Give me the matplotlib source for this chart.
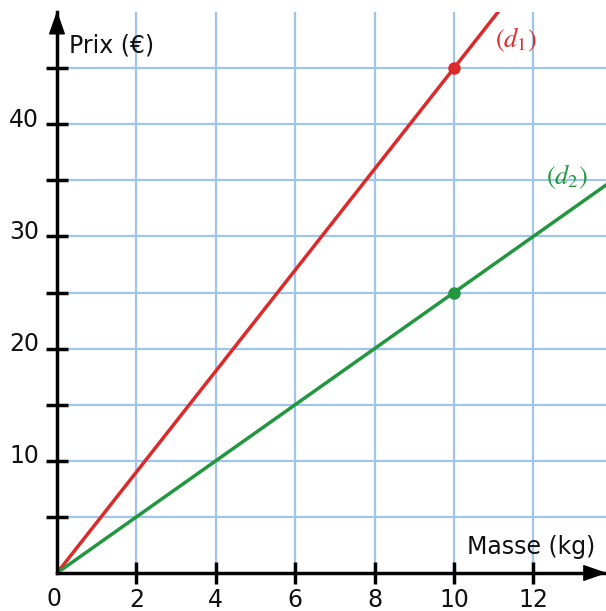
import matplotlib
matplotlib.use("Agg")
import matplotlib.pyplot as plt
from matplotlib.transforms import ScaledTranslation
import numpy as np

# Data
x_ticks = [2, 4, 6, 8, 10, 12]
x_tick_labels = ["2", "4", "6", "8", "10", "12"]
y_ticks = [5, 10, 15, 20, 25, 30, 35, 40, 45]
y_tick_labels = ["", "10", "", "20", "", "30", "", "40", ""]
slope_d1 = 4.5
slope_d2 = 2.5
point_x = 10
point_d1 = 45
point_d2 = 25
line_x = [0, 14]

RED = "#dc2a2a"
GREEN = "#23973f"
GRID = "#9fc5e8"
FS = 17

plt.rcParams["mathtext.fontset"] = "stix"

W, H = 606, 611
fig = plt.figure(figsize=(W / 100, H / 100), dpi=100)
x0, y0 = 57, 573
xmax, ymax = 13.83, 50.0
ax = fig.add_axes([x0 / W, (H - y0) / H, (W - x0) / W, (y0 - 12) / H])
ax.set_xlim(0, xmax)
ax.set_ylim(0, ymax)

for s in ["top", "right"]:
    ax.spines[s].set_visible(False)
for s in ["left", "bottom"]:
    ax.spines[s].set_linewidth(2.5)
    ax.spines[s].set_color("black")
    ax.spines[s].set_zorder(5)

ax.set_xticks(x_ticks)
ax.set_xticklabels(x_tick_labels)
ax.set_yticks(y_ticks)
ax.set_yticklabels(y_tick_labels)
ax.tick_params(axis="both", direction="inout", length=16, width=2.5, color="black",
               labelsize=FS, labelcolor="#111111")
ax.tick_params(axis="x", pad=3)
ax.tick_params(axis="y", pad=5)
for lab in ax.get_yticklabels():
    lab.set_transform(lab.get_transform() + ScaledTranslation(0, 7 / 100, fig.dpi_scale_trans))

ax.grid(True, color=GRID, linewidth=1.6, zorder=0)
ax.set_axisbelow(True)

# origin label
ax.text(-0.08, 0, "0", fontsize=FS, ha="center", va="top", color="#111111",
        transform=ax.transData + ScaledTranslation(0, -14 / 100, fig.dpi_scale_trans))

# arrows
arrow_style = "-|>,head_length=1.0,head_width=0.35"
ax.annotate("", xy=(0, ymax + 0.1), xytext=(0, ymax - 4),
            arrowprops=dict(arrowstyle=arrow_style, color="black", lw=1,
                            mutation_scale=15, shrinkA=0, shrinkB=0),
            annotation_clip=False, zorder=6)
ax.annotate("", xy=(xmax + 0.02, 0), xytext=(xmax - 1, 0),
            arrowprops=dict(arrowstyle=arrow_style, color="black", lw=1,
                            mutation_scale=15, shrinkA=0, shrinkB=0),
            annotation_clip=False, zorder=6)

lx = np.array(line_x, dtype=float)
ax.plot(lx, slope_d1 * lx, color=RED, linewidth=2.5, zorder=3)
ax.plot(lx, slope_d2 * lx, color=GREEN, linewidth=2.5, zorder=3)
ax.plot([point_x], [point_d1], "o", color=RED, markersize=8, zorder=4)
ax.plot([point_x], [point_d2], "o", color=GREEN, markersize=8, zorder=4)

ax.text(11.55, 47.5, r"$(d_1)$", color=RED, fontsize=19, ha="center", va="center")
ax.text(12.85, 35.3, r"$(d_2)$", color=GREEN, fontsize=19, ha="center", va="center")

ax.text(0.3, 47.0, "Prix (€)", fontsize=FS, ha="left", va="center", color="#111111")
ax.text(13.55, 2.3, "Masse (kg)", fontsize=FS, ha="right", va="center", color="#111111")

fig.savefig("out.png", dpi=100)
